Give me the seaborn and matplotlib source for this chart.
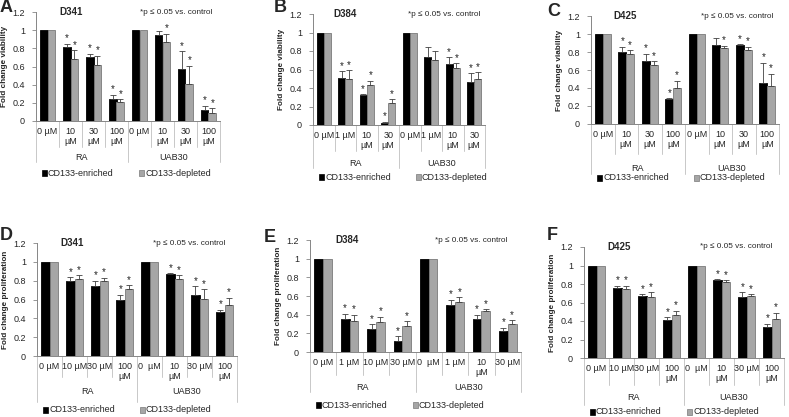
import numpy as np
import pandas as pd
import matplotlib as mpl
mpl.use("Agg")
import matplotlib.pyplot as plt
from matplotlib.patches import Rectangle
import seaborn as sns

sns.set_style("white")
plt.rcParams['font.family'] = ['Liberation Sans', 'DejaVu Sans']

# ---- data ----
groups = ["RA", "UAB30"]
cell_types = ["CD133-enriched", "CD133-depleted"]

# A: D341 viability
a_labels = ["0 µM", "10\nµM", "30\nµM", "100\nµM", "0 µM", "10\nµM", "30\nµM", "100\nµM"]
a_enr = [1, 0.81, 0.71, 0.24, 1, 0.95, 0.57, 0.12]
a_dep = [1, 0.68, 0.62, 0.21, 1, 0.87, 0.41, 0.09]
a_enr_err = [0, 0.04, 0.03, 0.05, 0, 0.04, 0.20, 0.05]
a_dep_err = [0, 0.10, 0.10, 0.03, 0, 0.09, 0.20, 0.05]
a_enr_star = [0, 1, 1, 1, 0, 0, 1, 1]
a_dep_star = [0, 1, 1, 1, 0, 1, 1, 1]

# B: D384 viability
b_labels = ["0 µM", "1 µM", "10\nµM", "30\nµM", "0 µM", "1 µM", "10\nµM", "30\nµM"]
b_enr = [1, 0.51, 0.32, 0.025, 1, 0.74, 0.66, 0.47]
b_dep = [1, 0.50, 0.43, 0.24, 1, 0.70, 0.62, 0.50]
b_enr_err = [0, 0.07, 0.01, 0.01, 0, 0.10, 0.07, 0.09]
b_dep_err = [0, 0.09, 0.05, 0.04, 0, 0.10, 0.05, 0.07]
b_enr_star = [0, 1, 1, 1, 0, 0, 1, 1]
b_dep_star = [0, 1, 1, 1, 0, 0, 1, 1]

# C: D425 viability
c_labels = ["0 µM", "10\nµM", "30\nµM", "100\nµM", "0 µM", "10\nµM", "30\nµM", "100\nµM"]
c_enr = [1, 0.80, 0.70, 0.28, 1, 0.88, 0.88, 0.46]
c_dep = [1, 0.78, 0.65, 0.40, 1, 0.84, 0.82, 0.42]
c_enr_err = [0, 0.06, 0.08, 0.005, 0, 0.08, 0.01, 0.22]
c_dep_err = [0, 0.04, 0.05, 0.08, 0, 0.03, 0.04, 0.14]
c_enr_star = [0, 1, 1, 1, 0, 0, 1, 1]
c_dep_star = [0, 1, 1, 1, 0, 1, 1, 1]

# D: D341 proliferation
d_labels = ["0 µM", "10 µM", "30 µM", "100\nµM", "0  µM", "10\nµM", "30 µM", "100\nµM"]
d_enr = [1, 0.80, 0.74, 0.60, 1, 0.87, 0.65, 0.47]
d_dep = [1, 0.82, 0.80, 0.71, 1, 0.82, 0.61, 0.54]
d_enr_err = [0, 0.04, 0.06, 0.05, 0, 0.01, 0.09, 0.02]
d_dep_err = [0, 0.04, 0.03, 0.04, 0, 0.04, 0.10, 0.08]
d_enr_star = [0, 1, 1, 1, 0, 1, 1, 1]
d_dep_star = [0, 1, 1, 1, 0, 1, 1, 1]

# E: D384 proliferation
e_labels = ["0 µM", "1 µM", "10 µM", "30 µM", "0  µM", "1 µM", "10\nµM", "30 µM"]
e_enr = [1, 0.35, 0.25, 0.12, 1, 0.50, 0.35, 0.22]
e_dep = [1, 0.33, 0.32, 0.28, 1, 0.54, 0.44, 0.30]
e_enr_err = [0, 0.06, 0.05, 0.05, 0, 0.06, 0.05, 0.04]
e_dep_err = [0, 0.07, 0.06, 0.05, 0, 0.05, 0.02, 0.04]
e_enr_star = [0, 1, 1, 1, 0, 1, 1, 1]
e_dep_star = [0, 1, 1, 1, 0, 1, 1, 1]

# F: D425 proliferation
f_labels = ["0 µM", "10 µM", "30 µM", "100\nµM", "0  µM", "10\nµM", "30 µM", "100\nµM"]
f_enr = [1, 0.76, 0.67, 0.41, 1, 0.84, 0.66, 0.33]
f_dep = [1, 0.75, 0.66, 0.46, 1, 0.82, 0.67, 0.42]
f_enr_err = [0, 0.02, 0.02, 0.03, 0, 0.01, 0.05, 0.04]
f_dep_err = [0, 0.03, 0.05, 0.05, 0, 0.02, 0.02, 0.07]
f_enr_star = [0, 1, 1, 1, 0, 1, 1, 1]
f_dep_star = [0, 1, 1, 1, 0, 1, 1, 1]

W, H = 789, 417
fig = plt.figure(figsize=(W / 100, H / 100), dpi=100)

BLACK = "#000000"
GRAY = "#a6a6a6"
AXC = "#868686"
SEPC = "#c8c8c8"


def px(x, y):
    return x / W, 1 - y / H


def panel(letter, cell, ylab, labels, enr, dep, enr_err, dep_err, enr_star, dep_star,
          box, row1, grp, bot, leg, title_x, note_x, letter_xy):
    l, t, r, b = box
    ax = fig.add_axes([l / W, 1 - b / H, (r - l) / W, (b - t) / H])
    hpx = b - t
    n = len(labels)
    cats = [f"c{i}" for i in range(n)]
    df = pd.DataFrame({
        "cat": cats * 2,
        "type": [cell_types[0]] * n + [cell_types[1]] * n,
        "val": list(enr) + list(dep),
    })
    sns.barplot(data=df, x="cat", y="val", hue="type", order=cats, hue_order=cell_types,
                palette=[BLACK, GRAY], width=0.66, ax=ax, legend=False, errorbar=None,
                saturation=1)
    edge = ["#000000", "#7a7a7a"]
    bar_conts = list(ax.containers)[:2]
    for k, cont in enumerate(bar_conts):
        errs = [enr_err, dep_err][k]
        stars = [enr_star, dep_star][k]
        xs, ys = [], []
        for p in cont.patches:
            p.set_edgecolor(edge[k])
            p.set_linewidth(0.6)
            xs.append(p.get_x() + p.get_width() / 2)
            ys.append(p.get_height())
        xs = np.array(xs)
        ys = np.array(ys)
        e = np.array(errs)
        m = e > 0
        ax.errorbar(xs[m], ys[m], yerr=[np.zeros(m.sum()), e[m]], fmt="none",
                    ecolor="#404040", elinewidth=0.6, capsize=2, capthick=0.6)
        for xx, yy, ee, s in zip(xs, ys, e, stars):
            if s:
                ax.text(xx, yy + ee + 0.003, "*", ha="center", va="bottom",
                        fontsize=7, color="#222222")

    ax.set_xlim(-0.5, n - 0.5)
    ax.set_ylim(0, 1.2)
    ax.set_yticks([0, 0.2, 0.4, 0.6, 0.8, 1.0, 1.2])
    ax.set_yticklabels(["0", "0.2", "0.4", "0.6", "0.8", "1", "1.2"], fontsize=6.5)
    ax.tick_params(axis="y", length=3, width=0.6, color=AXC, pad=5, left=True)
    ax.set_xticks([])
    ax.set_xlabel("")
    ax.set_ylabel(ylab, fontsize=5.9, fontweight="bold", labelpad=3)
    for s in ["top", "right"]:
        ax.spines[s].set_visible(False)
    for s in ["left", "bottom"]:
        ax.spines[s].set_color(AXC)
        ax.spines[s].set_linewidth(0.7)

    tr = ax.get_xaxis_transform()
    f = lambda d: -d / hpx
    # category labels
    for i, lab in enumerate(labels):
        ax.text(i, f(6), lab, transform=tr, ha="center", va="top", fontsize=6.5,
                linespacing=1.1, clip_on=False)
    # separators
    for j in range(n + 1):
        xpos = j - 0.5
        depth = bot if j in (0, n // 2, n) else row1
        ax.plot([xpos, xpos], [0, f(depth)], transform=tr, color=SEPC, lw=0.7,
                clip_on=False)
    # group labels
    half = n // 2
    for g, name in enumerate(groups):
        ax.text(g * half + (half - 1) / 2, f(grp), name, transform=tr, ha="center",
                va="center", fontsize=6.5, clip_on=False)

    # titles / notes
    ax.text(title_x, 1.2, cell, ha="left", va="center", fontsize=7, fontweight="bold")
    ax.text(note_x, 1.2, "*p ≤ 0.05 vs. control", ha="center", va="center", fontsize=5.9)
    fig.text(*px(*letter_xy), letter, fontsize=13, fontweight="bold", ha="left",
             va="center")

    # legend
    lx = [l + 6, l + 6 + 97]
    for k in range(2):
        x0, y0 = px(lx[k], leg + 3)
        fig.add_artist(Rectangle((x0, y0), 5 / W, 6 / H, transform=fig.transFigure,
                                 facecolor=[BLACK, GRAY][k], edgecolor=edge[k], lw=0.5))
        fig.text(*px(lx[k] + 6, leg), cell_types[k], fontsize=6.5, ha="left",
                 va="center")
    return ax


via = "Fold change viability"
pro = "Fold change proliferation"

panel("A", "D341", via, a_labels, a_enr, a_dep, a_enr_err, a_dep_err, a_enr_star,
      a_dep_star, (36, 12, 220, 121), 26, 36, 41, 173, 0.5, 5.6, (0, 7))
panel("B", "D384", via, b_labels, b_enr, b_dep, b_enr_err, b_dep_err, b_enr_star,
      b_dep_star, (313, 14, 485, 125), 26, 38, 43, 177, 0.45, 5.6, (274, 7))
panel("C", "D425", via, c_labels, c_enr, c_dep, c_enr_err, c_dep_err, c_enr_star,
      c_dep_star, (591, 16, 779, 124), 30, 45, 50, 178, 0.45, 5.7, (547, 12))
panel("D", "D341", pro, d_labels, d_enr, d_dep, d_enr_err, d_dep_err, d_enr_star,
      d_dep_star, (37, 243, 237, 356), 21, 36, 46, 410, 0.45, 5.6, (0, 236))
panel("E", "D384", pro, e_labels, e_enr, e_dep, e_enr_err, e_dep_err, e_enr_star,
      e_dep_star, (310, 240, 521, 352), 23, 36, 40, 405, 0.45, 5.6, (264, 238))
panel("F", "D425", pro, f_labels, f_enr, f_dep, f_enr_err, f_dep_err, f_enr_star,
      f_dep_star, (584, 247, 784, 358), 27, 40, 47, 412, 0.45, 5.6, (547, 236))

fig.savefig("out.png", dpi=100)
